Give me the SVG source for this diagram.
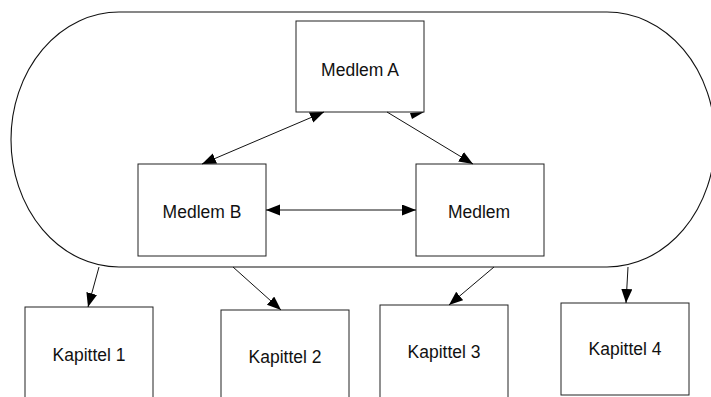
<svg xmlns="http://www.w3.org/2000/svg" width="711" height="397" viewBox="0 0 711 397">
  <style>
    .box { fill: #ffffff; stroke: #222222; stroke-width: 1; }
    .label { font-family: "Liberation Sans", Arial, sans-serif; font-size: 17.5px; fill: #111111; text-anchor: middle; dominant-baseline: central; }
    .conn { stroke: #111111; stroke-width: 1; fill: none; }
    .container { fill: none; stroke: #111111; stroke-width: 1.1; }
  </style>
  <defs>
    <marker id="arrow" markerUnits="userSpaceOnUse" markerWidth="15" markerHeight="12" refX="14" refY="5.5" orient="auto-start-reverse">
      <path d="M0,0 L14,5.5 L0,11 Z" fill="#000000"/>
    </marker>
  </defs>
  <rect x="0" y="0" width="711" height="397" fill="#ffffff"/>

  <g id="container">
    <rect class="container" x="11" y="12" width="704" height="255" rx="108" ry="127.5"/>
  </g>

  <g id="medlem-a">
    <rect class="box" x="296" y="21" width="128" height="91"/>
    <text class="label" x="360" y="70">Medlem A</text>
  </g>
  <g id="medlem-b">
    <rect class="box" x="138" y="164" width="128" height="92"/>
    <text class="label" x="202" y="212">Medlem B</text>
  </g>
  <g id="medlem">
    <rect class="box" x="416" y="164" width="128" height="92"/>
    <text class="label" x="479" y="212">Medlem</text>
  </g>
  <g id="kapittel-1">
    <rect class="box" x="25" y="307" width="128" height="95"/>
    <text class="label" x="89" y="355">Kapittel 1</text>
  </g>
  <g id="kapittel-2">
    <rect class="box" x="221" y="310" width="128" height="95"/>
    <text class="label" x="285" y="357">Kapittel 2</text>
  </g>
  <g id="kapittel-3">
    <rect class="box" x="380" y="305" width="128" height="95"/>
    <text class="label" x="444" y="352">Kapittel 3</text>
  </g>
  <g id="kapittel-4">
    <rect class="box" x="561" y="303" width="128" height="92"/>
    <text class="label" x="625" y="349">Kapittel 4</text>
  </g>

  <g id="connectors">
    <line class="conn" x1="202" y1="164" x2="324" y2="112" marker-start="url(#arrow)" marker-end="url(#arrow)"/>
    <line class="conn" x1="387" y1="112" x2="473" y2="164" marker-end="url(#arrow)"/>
    <path d="M424,112 L410,113 L412,119 Z" fill="#000000"/>
    <line class="conn" x1="266" y1="210" x2="416" y2="210" marker-start="url(#arrow)" marker-end="url(#arrow)"/>
    <line class="conn" x1="99" y1="267" x2="88" y2="307" marker-end="url(#arrow)"/>
    <line class="conn" x1="233" y1="267" x2="281" y2="310" marker-end="url(#arrow)"/>
    <line class="conn" x1="494" y1="267" x2="449" y2="305" marker-end="url(#arrow)"/>
    <line class="conn" x1="628" y1="267" x2="626" y2="303" marker-end="url(#arrow)"/>
  </g>
</svg>
